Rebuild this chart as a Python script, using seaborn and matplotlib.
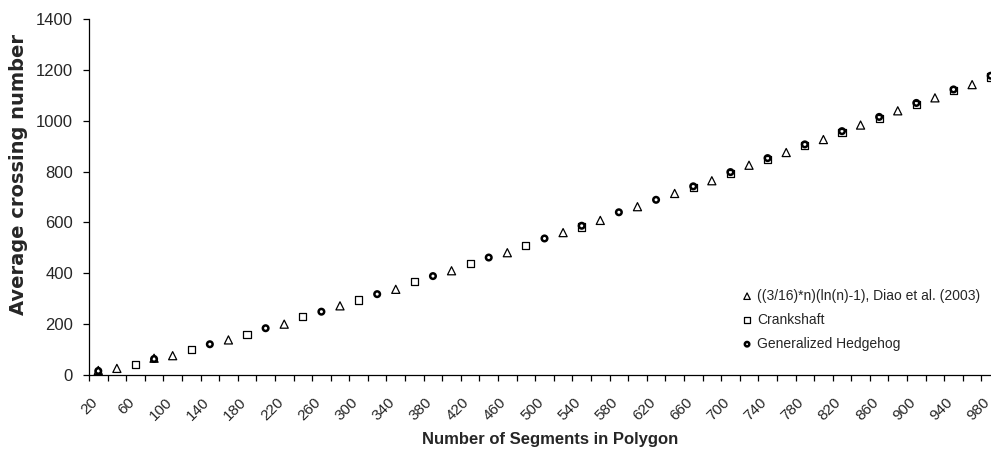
import matplotlib
matplotlib.use("Agg")
import matplotlib.pyplot as plt
import matplotlib.transforms as mtransforms
import pandas as pd
import seaborn as sns

# Polygon sizes (number of segments) on the category axis
segment_categories = [20, 40, 60, 80, 100, 120, 140, 160, 180, 200, 220, 240, 260, 280,
                      300, 320, 340, 360, 380, 400, 420, 440, 460, 480, 500, 520, 540,
                      560, 580, 600, 620, 640, 660, 680, 700, 720, 740, 760, 780, 800,
                      820, 840, 860, 880, 900, 920, 940, 960, 980]
tick_labels = ["20", "60", "100", "140", "180", "220", "260", "300", "340", "380", "420",
               "460", "500", "540", "580", "620", "660", "700", "740", "780", "820", "860",
               "900", "940", "980"]

# ((3/16)*n)(ln(n)-1), Diao et al. (2003)
formula_n = [20, 40, 80, 100, 160, 220, 280, 340, 400, 460, 520, 560, 600, 640, 680,
             720, 760, 800, 840, 880, 920, 960]
formula_crossings = [18, 26, 66, 76, 138, 200, 272, 337, 410, 481, 560, 608, 662, 714,
                     764, 825, 875, 926, 983, 1039, 1090, 1142]

# Crankshaft
crankshaft_n = [60, 120, 180, 240, 300, 360, 420, 480, 540, 660, 700, 740, 780, 820,
                860, 900, 940, 980]
crankshaft_crossings = [42, 102, 160, 231, 295, 366, 440, 511, 582, 737, 793, 849, 902,
                        954, 1010, 1065, 1118, 1172]

# Generalized Hedgehog
hedgehog_n = [20, 80, 140, 200, 260, 320, 380, 440, 500, 540, 580, 620, 660, 700, 740,
              780, 820, 860, 900, 940, 980]
hedgehog_crossings = [16, 63, 121, 184, 249, 318, 389, 462, 537, 587, 640, 689, 742, 798,
                      853, 907, 959, 1015, 1070, 1123, 1177]

series_names = ["((3/16)*n)(ln(n)-1), Diao et al. (2003)", "Crankshaft",
                "Generalized Hedgehog"]

frames = [
    pd.DataFrame({"segments": formula_n, "crossings": formula_crossings,
                  "series": series_names[0]}),
    pd.DataFrame({"segments": crankshaft_n, "crossings": crankshaft_crossings,
                  "series": series_names[1]}),
    pd.DataFrame({"segments": hedgehog_n, "crossings": hedgehog_crossings,
                  "series": series_names[2]}),
]
data = pd.concat(frames, ignore_index=True)

sns.set_style("ticks")
plt.rcParams["font.family"] = ["Liberation Sans", "DejaVu Sans"]

fig = plt.figure(figsize=(9.91, 4.54), dpi=100)
ax = fig.add_axes([0.0898, 0.174, 0.9193, 0.7841])

styles = {
    series_names[0]: dict(marker="^", s=34, linewidth=0.9, zorder=3),
    series_names[1]: dict(marker="s", s=26, linewidth=0.9, zorder=2),
    series_names[2]: dict(marker="o", s=16, linewidth=1.8, zorder=4),
}
for name in series_names:
    sns.scatterplot(data=data[data["series"] == name], x="segments", y="crossings",
                    facecolor="none", edgecolor="black", label=name, ax=ax,
                    legend=False, **styles[name])

# Category-style x axis: boundaries carry tick marks, every other centre a label
step = segment_categories[1] - segment_categories[0]
ax.set_xlim(segment_categories[0] - step / 2, segment_categories[-1] + step / 2)
ax.set_xticks([int(t) for t in tick_labels], labels=tick_labels, rotation=45,
              ha="right", va="center", rotation_mode="anchor", fontsize=11)
ax.set_xticks([c - step / 2 for c in segment_categories] +
              [segment_categories[-1] + step / 2], minor=True)
ax.tick_params(axis="x", which="major", length=0, pad=18)
ax.tick_params(axis="x", which="minor", length=4.5, width=0.9, direction="out",
               color="black")
shift = mtransforms.ScaledTranslation(-0.03, 0, fig.dpi_scale_trans)
for lbl in ax.get_xticklabels():
    lbl.set_transform(lbl.get_transform() + shift)

ax.set_ylim(0, 1400)
ax.set_yticks(range(0, 1401, 200))
ax.tick_params(axis="y", length=4.5, width=0.9, direction="out", pad=7,
               labelsize=12, color="black")

sns.despine(ax=ax)
for side in ("left", "bottom"):
    ax.spines[side].set_color("black")
    ax.spines[side].set_linewidth(0.9)

ax.set_xlabel("Number of Segments in Polygon", fontsize=12, fontweight="bold",
              va="center")
ax.xaxis.set_label_coords(0.506, -0.18)
ax.set_ylabel("Average crossing number", fontsize=14, fontweight="bold",
              family=["DejaVu Sans"], va="center")
ax.yaxis.set_label_coords(-0.077, 0.562)

handles, labels = ax.get_legend_handles_labels()
ax.legend(handles, labels, loc="center left", bbox_to_anchor=(0.717, 0.155),
          frameon=False, fontsize=10, handlelength=0.7, handletextpad=0.35,
          labelspacing=0.72, borderpad=0, borderaxespad=0, markerscale=0.8)

fig.savefig("out.png", dpi=100)
